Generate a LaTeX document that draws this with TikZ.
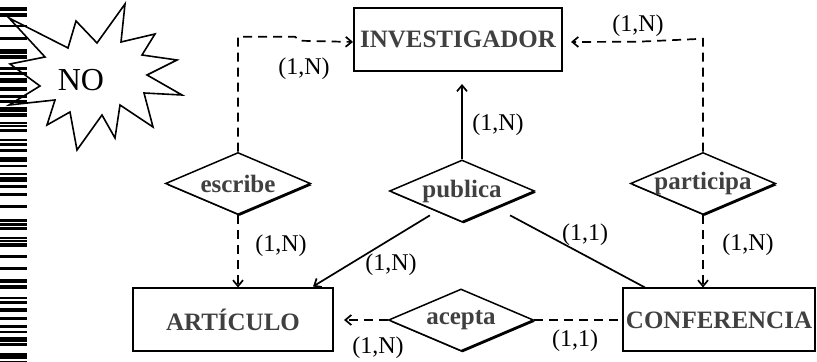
\documentclass[tikz,border=0pt]{standalone}
\usepackage{fontspec}
\setmainfont{Liberation Serif}
\usepackage{xcolor}
\definecolor{ERtext}{HTML}{404040}
\usetikzlibrary{arrows.meta, shapes.geometric, shadows, positioning, calc}

\begin{document}
\begin{tikzpicture}[x=0.5pt, y=-0.5pt]
\tikzset{
  entity/.style={draw, line width=1pt, minimum height=31.5pt, inner sep=0pt,
    text=ERtext, font=\fontsize{12.5}{14}\selectfont\bfseries},
  relation/.style={diamond, draw, line width=0.75pt, fill=white,
    minimum width=72.5pt, minimum height=31pt, inner sep=0pt,
    label={[text=ERtext, font=\fontsize{12.5}{14}\selectfont\bfseries]center:#1},
    drop shadow={shadow xshift=0.8pt, shadow yshift=-0.8pt, fill=black, opacity=1}},
  link/.style={line width=0.85pt},
  dashlink/.style={link, dash pattern=on 4.5pt off 3pt},
  tip/.style={-{Straight Barb[length=3pt, width=5pt]}},
  card/.style={font=\fontsize{12}{14}\selectfont, inner sep=0pt},
}
  \useasboundingbox (0,0) rectangle (817,362);

  % "NO" burst
  \draw[line width=0.8pt, fill=white]
    (9,18) -- (68,48) -- (76,21) -- (97,43) -- (125,4) -- (121,42)
    -- (155,34) -- (142,55) -- (177,60) -- (147,75) -- (182,95)
    -- (144,93) -- (153,127) -- (120,105) -- (115,138) -- (102,115)
    -- (77,150) -- (70,112) -- (47,125) -- (55,100) -- (9,105)
    -- (40,86) -- (10,64) -- (45,57) -- cycle;
  \node[font=\fontsize{16}{18}\selectfont] (no) at (81,80) {NO};

  % bar strip on the left edge
  \foreach \y/\h in {7/4, 13/4, 25/2, 37/3, 49/5, 55/4, 67/3, 72/3, 78/5,
      87/4, 95/3, 100/3, 107/5, 113/4, 122/2, 125/2, 129/3, 139/2, 143/3,
      149/3, 157/5, 165/2, 173/2, 177/5, 185/3, 193/3, 205/3, 219/3, 223/3,
      227/3, 237/2, 240/2, 243/4, 255/3, 267/3, 279/4, 285/4, 297/2, 301/3,
      308/4, 317/3, 325/3, 331/2, 337/5, 343/3, 353/6, 361/1}
    \fill (0,\y) rectangle (27,\y+\h);

  % Entities
  \node[entity, minimum width=104pt] (investigador) at (458,39.5) {INVESTIGADOR};
  \node[entity, minimum width=100pt] (articulo) at (233,320) {ARTÍCULO};
  \node[entity, minimum width=96pt] (conferencia) at (719,320) {CONFERENCIA};

  % Relationships
  \node[relation=escribe] (escribe) at (238,183.5) {};
  \node[relation=publica] (publica) at (462,191) {};
  \node[relation=participa] (participa) at (703,183.5) {};
  \node[relation=acepta] (acepta) at (461,320) {};

  % Links to INVESTIGADOR
  \draw[dashlink, tip] (escribe.north) -- ++(0,-115) -- ++(57,0) -- ++(5,4)
    -- ([yshift=-1.25pt]investigador.west);
  \draw[dashlink, tip, shorten >=4pt] (participa.north) -- ++(0,-113)
    -- ++(-66,3) -- ([yshift=-1.25pt]investigador.east);
  \draw[link, tip, shorten >=6pt] (publica.north) -- (publica.north |- investigador.south);

  % Links to ARTÍCULO and CONFERENCIA
  \draw[dashlink, tip] (escribe.south) -- (escribe.south |- articulo.north);
  \draw[dashlink, tip] (participa.south) -- (participa.south |- conferencia.north);
  \draw[link, tip] ([shift={(4.5,8.5)}]publica.south west)
    -- ([shift={(-21,-1)}]articulo.north east);
  \draw[link] ([shift={(11.5,8.5)}]publica.south east)
    -- ([shift={(23,0)}]conferencia.north west);
  \draw[dashlink, tip, shorten >=5pt] (acepta.west) -- (articulo.east);
  \draw[dashlink] (acepta.east) -- (conferencia.west);

  % Cardinalities
  \node[card] (c-esc-inv) at (304,69) {(1,N)};
  \node[card] (c-par-inv) at (638,26) {(1,N)};
  \node[card] (c-pub-inv) at (498,125) {(1,N)};
  \node[card] (c-esc-art) at (281,246) {(1,N)};
  \node[card] (c-pub-art) at (391,265) {(1,N)};
  \node[card] (c-pub-con) at (585,235) {(1,1)};
  \node[card] (c-par-con) at (748,245) {(1,N)};
  \node[card] (c-ace-art) at (378,348) {(1,N)};
  \node[card] (c-ace-con) at (575,341) {(1,1)};
\end{tikzpicture}
\end{document}
